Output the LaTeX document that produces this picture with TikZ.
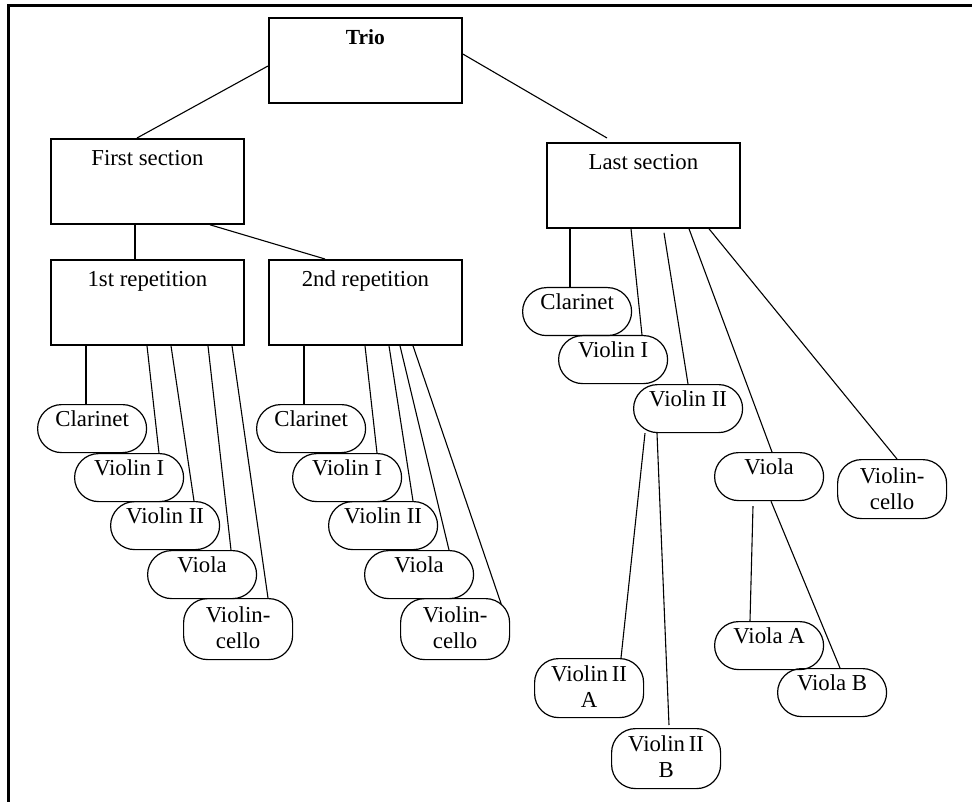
\documentclass[tikz,border=0pt]{standalone}
\usepackage{fontspec}
\setmainfont{Liberation Serif}
\newcommand{\twoline}[2]{\begin{tabular}[t]{@{}c@{}}#1\\#2\end{tabular}}
\begin{document}
\begin{tikzpicture}[x=1pt,y=-1pt,
  txt/.style={font=\fontsize{22.8}{26}\selectfont},
  box/.style={txt, draw, line width=1.8pt, inner sep=0pt, minimum width=193pt,
    text height=27pt, text depth=58pt, anchor=north west},
  pill/.style={txt, draw, line width=1.2pt, rounded corners=24pt, inner sep=0pt,
    minimum width=109pt, text height=22pt, text depth=26pt, anchor=north west},
  pilltwo/.style={pill, text height=#1},
  link/.style={line width=1.1pt},
  stem/.style={line width=2pt}]
\useasboundingbox (0,0) rectangle (972,802);
\draw[line width=3pt] (8,802) -- (8,6) -- (972,6);

% boxes
\node[box] (trio) at (268,17) {\fontsize{21.5}{26}\selectfont\textbf{Trio}};
\node[box] (fs) at (50,138) {First section};
\node[box] (r1) at (50,259) {1st repetition};
\node[box] (r2) at (268,259) {2nd repetition};
\node[box] (ls) at (546,142) {Last section};

% first repetition
\node[pill] (c1) at (37,404) {Clarinet};
\node[pill] (v1) at (74,453) {Violin I};
\node[pill] (w1) at (110,501) {Violin II};
\node[pill] (a1) at (147,550) {Viola};
\node[pilltwo=24pt, text depth=37pt] (o1) at (183,598) {\twoline{Violin-}{cello}};

% second repetition
\node[pill] (c2) at (256,404) {Clarinet};
\node[pill] (v2) at (292,453) {Violin I};
\node[pill] (w2) at (328,501) {Violin II};
\node[pill] (a2) at (364,550) {Viola};
\node[pilltwo=24pt, text depth=37pt] (o2) at (400,598) {\twoline{Violin-}{cello}};

% last section
\node[pill] (c3) at (522,287) {Clarinet};
\node[pill] (v3) at (558,335) {Violin I};
\node[pill] (w3) at (633,384) {Violin II};
\node[pill] (a3) at (714,452) {Viola};
\node[pilltwo=24pt, text depth=35pt] (o3) at (837,459) {\twoline{Violin-}{cello}};
\node[pilltwo=23pt, text depth=36pt] (wa) at (534,658) {\twoline{Violin\,II}{A}};
\node[pilltwo=23pt, text depth=37pt] (wb) at (611,728) {\twoline{Violin\,II}{B}};
\node[pill] (aa) at (714,621) {Viola A};
\node[pill] (ab) at (777,668) {Viola B};

% connectors top
\draw[link] ([yshift=-49pt]trio.north west) -- ([xshift=87pt]fs.north west);
\draw[link] ([yshift=-37pt]trio.north east) -- ([xshift=61pt,yshift=4pt]ls.north west);
\draw[stem] ([xshift=85pt]fs.south west) -- ([xshift=85pt]r1.north west);
\draw[link] ([xshift=160pt]fs.south west) -- ([xshift=57pt]r2.north west);

% first repetition connectors
\draw[stem] ([xshift=36pt]r1.south west) -- ([xshift=49pt]c1.north west);
\draw[link] ([xshift=97pt]r1.south west) -- ([xshift=85pt]v1.north west);
\draw[link] ([xshift=121pt]r1.south west) -- ([xshift=84pt]w1.north west);
\draw[link] ([xshift=158pt]r1.south west) -- ([xshift=84pt]a1.north west);
\draw[link] ([xshift=182pt]r1.south west) -- ([xshift=85pt]o1.north west);

% second repetition connectors
\draw[stem] ([xshift=36pt]r2.south west) -- ([xshift=48pt]c2.north west);
\draw[link] ([xshift=97pt]r2.south west) -- ([xshift=85pt]v2.north west);
\draw[link] ([xshift=121pt]r2.south west) -- ([xshift=85pt]w2.north west);
\draw[link] ([xshift=132pt]r2.south west) -- ([xshift=85pt]a2.north west);
\draw[link] ([xshift=145pt]r2.south west) -- ([xshift=-9pt,yshift=-6pt]o2.north east);

% last section connectors
\draw[stem] ([xshift=24pt]ls.south west) -- ([xshift=48pt]c3.north west);
\draw[link] ([xshift=85pt]ls.south west) -- ([xshift=84pt]v3.north west);
\draw[link] ([xshift=118pt,yshift=-4pt]ls.south west) -- ([xshift=55pt]w3.north west);
\draw[link] ([xshift=143pt]ls.south west) -- ([xshift=58pt]a3.north west);
\draw[link] ([xshift=163pt]ls.south west) -- ([xshift=60pt]o3.north west);

% violin II split
\draw[link] ([xshift=12pt]w3.south west) -- ([xshift=87pt]wa.north west);
\draw[link] ([xshift=24pt]w3.south west) -- ([xshift=58pt,yshift=3pt]wb.north west);

% viola split
\draw[link] ([xshift=39pt,yshift=-5pt]a3.south west) -- ([xshift=36pt]aa.north west);
\draw[link] ([xshift=57pt]a3.south west) -- ([xshift=63pt]ab.north west);
\end{tikzpicture}
\end{document}
